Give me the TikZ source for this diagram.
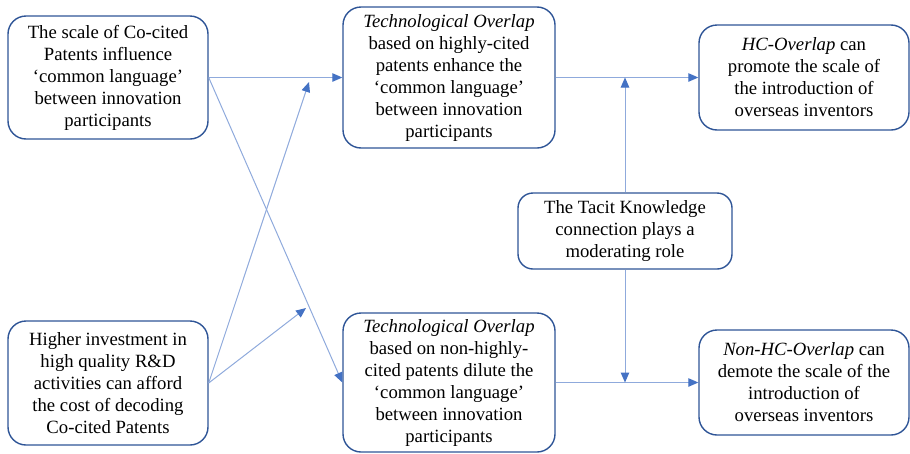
\documentclass[tikz,border=0pt]{standalone}
\usepackage{fontspec}
\setmainfont{Liberation Serif}
\usetikzlibrary{arrows.meta}
\definecolor{boxline}{RGB}{47,85,151}
\definecolor{linkline}{RGB}{143,170,220}
\definecolor{tipblue}{RGB}{68,114,196}
\begin{document}
\begin{tikzpicture}[x=1pt,y=-1pt,
  idea/.style={draw=boxline, line width=1.4pt, rounded corners=18pt, fill=white,
    align=center, inner sep=0pt, font=\fontsize{18.7}{22}\selectfont},
  link/.style={draw=linkline, line width=1pt,
    -{Triangle[length=10pt,width=8.5pt,color=tipblue]}}]
\useasboundingbox (0,0) rectangle (910,453);
% left column: drivers
\node[idea, minimum width=200pt, minimum height=123pt] (b1) at (108,77.5)
  {The scale of Co-cited\\Patents influence\\`common language'\\between innovation\\participants};
\node[idea, minimum width=200pt, minimum height=124pt] (b2) at (108,383)
  {Higher investment in\\high quality R\&D\\activities can afford\\the cost of decoding\\Co-cited Patents};
% middle column: overlap effects
\node[idea, minimum width=212pt, minimum height=141pt] (b3) at (449,77.5)
  {\textit{Technological Overlap}\\based on highly-cited\\patents enhance the\\`common language'\\between innovation\\participants};
\node[idea, minimum width=212pt, minimum height=139pt] (b4) at (449,382.5)
  {\textit{Technological Overlap}\\based on non-highly-\\cited patents dilute the\\`common language'\\between innovation\\participants};
% right column: outcomes
\node[idea, minimum width=210pt, minimum height=105pt] (b5) at (804,77.5)
  {\textit{HC-Overlap} can\\promote the scale of\\the introduction of\\overseas inventors};
\node[idea, minimum width=210pt, minimum height=105pt] (b6) at (804,382.5)
  {\textit{Non-HC-Overlap} can\\demote the scale of the\\introduction of\\overseas inventors};
% moderator
\node[idea, rounded corners=15pt, minimum width=214pt, minimum height=76pt] (b7) at (625,231)
  {The Tacit Knowledge\\connection plays a\\moderating role};
% free ends of the arrows from the investment box
\coordinate (up) at (309,82);
\coordinate (mid) at (306,308);
\coordinate (mtop) at (b7.north |- b3.east);
\coordinate (mbot) at (b7.south |- b4.east);
% connectors
\draw[link] (b1.east) -- (b3.west);
\draw[link] (b1.east) -- (b4.west);
\draw[link] (b2.east) -- (up);
\draw[link] (b2.east) -- (mid);
\draw[link] (b3.east) -- (b5.west);
\draw[link] (b4.east) -- (b6.west);
\draw[link] (b7.north) -- (mtop);
\draw[link] (b7.south) -- (mbot);
\end{tikzpicture}
\end{document}
